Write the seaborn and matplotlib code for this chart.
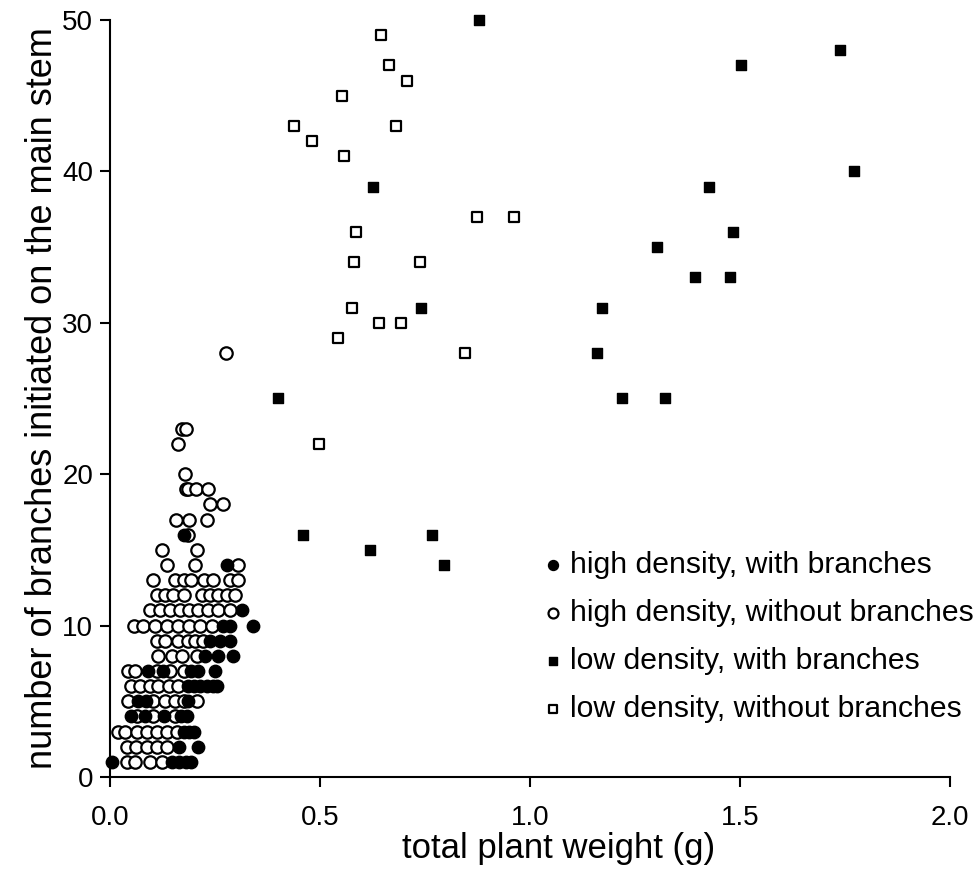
import matplotlib
matplotlib.use("Agg")
import matplotlib.pyplot as plt
import seaborn as sns

# ---------------- data ----------------
# high density, with branches (filled circles)
hd_with_x = [0.004, 0.147, 0.165, 0.180, 0.193,
             0.165, 0.210,
             0.175, 0.188, 0.200,
             0.050, 0.083, 0.128, 0.170, 0.183,
             0.067, 0.085, 0.186,
             0.185, 0.200, 0.215, 0.230, 0.245, 0.255,
             0.091, 0.127, 0.194, 0.210, 0.250,
             0.226, 0.257, 0.293,
             0.238, 0.262, 0.286,
             0.270, 0.286, 0.341,
             0.314,
             0.278,
             0.175]
hd_with_y = [1, 1, 1, 1, 1,
             2, 2,
             3, 3, 3,
             4, 4, 4, 4, 4,
             5, 5, 5,
             6, 6, 6, 6, 6, 6,
             7, 7, 7, 7, 7,
             8, 8, 8,
             9, 9, 9,
             10, 10, 10,
             11,
             14,
             16]

# high density, without branches (open circles)
hd_without_x = [0.040, 0.060, 0.095, 0.123,
                0.040, 0.063, 0.087, 0.111, 0.135,
                0.020, 0.036, 0.064, 0.087, 0.111, 0.135, 0.159,
                0.064, 0.103, 0.155,
                0.044, 0.103, 0.131, 0.155, 0.175, 0.206,
                0.051, 0.071, 0.095, 0.115, 0.140, 0.163,
                0.044, 0.060, 0.111, 0.143, 0.175,
                0.115, 0.147, 0.171, 0.206,
                0.111, 0.131, 0.163, 0.185, 0.202, 0.222,
                0.056, 0.079, 0.107, 0.135, 0.163, 0.187, 0.214, 0.242,
                0.095, 0.119, 0.143, 0.167, 0.187, 0.210, 0.234, 0.258, 0.286,
                0.111, 0.131, 0.151, 0.175, 0.218, 0.238, 0.258, 0.278, 0.298,
                0.103, 0.155, 0.175, 0.194, 0.224, 0.246, 0.286, 0.305,
                0.135, 0.202, 0.305,
                0.123, 0.206,
                0.186,
                0.157, 0.189, 0.232,
                0.238, 0.268,
                0.180, 0.186, 0.205, 0.234,
                0.179,
                0.163,
                0.172, 0.180,
                0.275]
hd_without_y = [1, 1, 1, 1,
                2, 2, 2, 2, 2,
                3, 3, 3, 3, 3, 3, 3,
                4, 4, 4,
                5, 5, 5, 5, 5, 5,
                6, 6, 6, 6, 6, 6,
                7, 7, 7, 7, 7,
                8, 8, 8, 8,
                9, 9, 9, 9, 9, 9,
                10, 10, 10, 10, 10, 10, 10, 10,
                11, 11, 11, 11, 11, 11, 11, 11, 11,
                12, 12, 12, 12, 12, 12, 12, 12, 12,
                13, 13, 13, 13, 13, 13, 13, 13,
                14, 14, 14,
                15, 15,
                16,
                17, 17, 17,
                18, 18,
                19, 19, 19, 19,
                20,
                22,
                23, 23,
                28]

# low density, with branches (filled squares)
ld_with_x = [0.879, 1.738, 1.502, 1.771, 1.427, 0.627, 1.483, 1.302, 1.393, 1.477,
             0.740, 1.171, 1.160, 0.400, 1.220, 1.322, 0.460, 0.620, 0.767, 0.795]
ld_with_y = [50, 48, 47, 40, 39, 39, 36, 35, 33, 33,
             31, 31, 28, 25, 25, 25, 16, 15, 16, 14]

# low density, without branches (open squares)
ld_without_x = [0.645, 0.665, 0.706, 0.553, 0.437, 0.682, 0.480, 0.558, 0.873, 0.963, 0.585,
                0.582, 0.739, 0.575, 0.640, 0.693, 0.543, 0.846, 0.498]
ld_without_y = [49, 47, 46, 45, 43, 43, 42, 41, 37, 37, 36,
                34, 34, 31, 30, 30, 29, 28, 22]

labels = ["high density, with branches", "high density, without branches",
          "low density, with branches", "low density, without branches"]
x_ticks = [0.0, 0.5, 1.0, 1.5, 2.0]
y_ticks = [0, 10, 20, 30, 40, 50]

# ---------------- plot ----------------
sns.set_theme(style="ticks")
plt.rcParams['font.family'] = ['Liberation Sans', 'DejaVu Sans']
plt.rcParams['text.color'] = 'black'
plt.rcParams['axes.labelcolor'] = 'black'

fig = plt.figure(figsize=(9.77, 8.71), dpi=100)
ax = fig.add_axes([110 / 977, 94 / 871, 840 / 977, 757 / 871])

sns.scatterplot(x=ld_without_x, y=ld_without_y, marker='s', s=62, color='white',
                edgecolor='black', linewidth=1.6, ax=ax, label=labels[3], clip_on=False, zorder=3)
sns.scatterplot(x=ld_with_x, y=ld_with_y, marker='s', s=62, color='black',
                edgecolor='black', linewidth=1.0, ax=ax, label=labels[2], clip_on=False, zorder=3)
sns.scatterplot(x=hd_without_x, y=hd_without_y, marker='o', s=80, color='white',
                edgecolor='black', linewidth=1.6, ax=ax, label=labels[1], clip_on=False, zorder=3)
sns.scatterplot(x=hd_with_x, y=hd_with_y, marker='o', s=80, color='black',
                edgecolor='black', linewidth=1.0, ax=ax, label=labels[0], clip_on=False, zorder=4)

ax.set_xlim(0, 2)
ax.set_ylim(0, 50)
ax.set_xticks(x_ticks)
ax.set_xticklabels([f"{v:.1f}" for v in x_ticks])
ax.set_yticks(y_ticks)
ax.set_yticklabels([str(v) for v in y_ticks])
sns.despine(ax=ax)
for sp in ax.spines.values():
    sp.set_linewidth(1.5)
    sp.set_color('black')
ax.tick_params(direction='out', length=7, width=1.5, labelsize=20, colors='black')
ax.tick_params(axis='x', pad=13)
ax.tick_params(axis='y', pad=5)

ax.set_xlabel("total plant weight (g)", fontsize=25)
ax.xaxis.set_label_coords(0.534, -0.073)
ax.set_ylabel("number of branches initiated on the main stem", fontsize=26, labelpad=2)

handles, labs = ax.get_legend_handles_labels()
order = [labs.index(l) for l in labels]
leg = ax.legend([handles[i] for i in order], [labs[i] for i in order],
                loc='upper left', bbox_to_anchor=(541 / 977, 1 - 551 / 871),
                bbox_transform=fig.transFigure, frameon=False, fontsize=21.7,
                handlelength=0.8, handletextpad=0.15, labelspacing=0.66,
                borderpad=0, borderaxespad=0, markerscale=0.8)

fig.savefig("out.png", dpi=100)
